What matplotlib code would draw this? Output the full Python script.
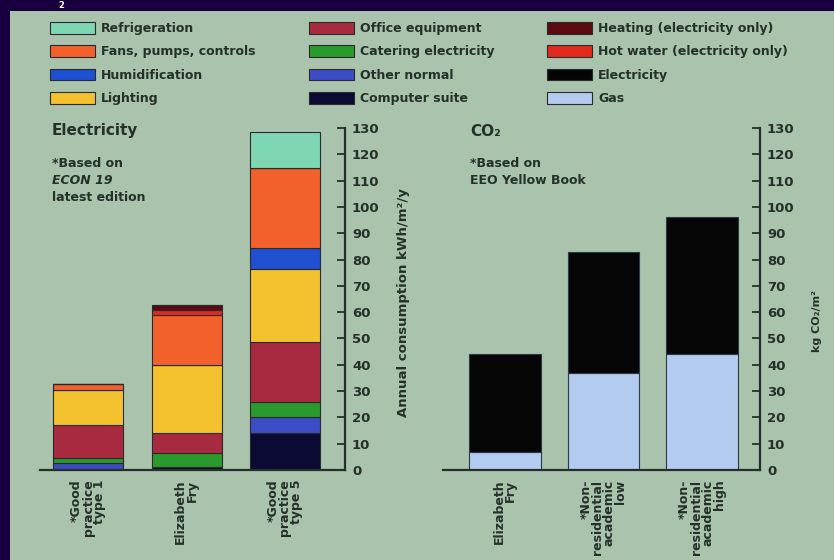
import matplotlib.pyplot as plt
from matplotlib.patches import Patch, Rectangle
import numpy as np

plt.rcParams['font.family'] = ['DejaVu Sans']
plt.rcParams['font.weight'] = 'bold'

border = '#180040'
panel = '#a9c3ad'
ink = '#263028'

elec_sites = ['*Good\npractice\ntype 1', 'Elizabeth\nFry', '*Good\npractice\ntype 5']
co2_sites = ['Elizabeth\nFry', '*Non-\nresidential\nacademic\nlow',
             '*Non-\nresidential\nacademic\nhigh']

# annual electricity use, kWh/m2/y, stacked bottom to top
computer_suite = [0, 1.3, 14]
other_normal = [2.7, 0, 6.3]
catering = [1.9, 5.2, 5.7]
office = [12.5, 7.6, 22.8]
lighting = [13.3, 25.8, 27.5]
humidification = [0, 0, 8]
fans = [2.3, 19, 30.4]
hot_water = [0, 1.9, 0]
heating = [0, 1.9, 0]
refrigeration = [0, 0, 13.9]

# CO2, kg/m2
gas = [7, 37, 44]
electricity = [37, 46, 52]

colors = {
    'Refrigeration': '#7fd6b2',
    'Fans, pumps, controls': '#f2602c',
    'Humidification': '#1f50d2',
    'Lighting': '#f3c22e',
    'Office equipment': '#a82a40',
    'Catering electricity': '#2a9a2c',
    'Other normal': '#3c4cc4',
    'Computer suite': '#0a0a32',
    'Heating (electricity only)': '#5a0a12',
    'Hot water (electricity only)': '#e02a1e',
    'Electricity': '#050505',
    'Gas': '#b4cbf0',
}

elec_stack = [
    ('Computer suite', computer_suite),
    ('Other normal', other_normal),
    ('Catering electricity', catering),
    ('Office equipment', office),
    ('Lighting', lighting),
    ('Humidification', humidification),
    ('Fans, pumps, controls', fans),
    ('Hot water (electricity only)', hot_water),
    ('Heating (electricity only)', heating),
    ('Refrigeration', refrigeration),
]

W, H = 834, 560
fig = plt.figure(figsize=(W / 100, H / 100), dpi=100, facecolor=border)
fig.patches.append(Rectangle((10 / W, 0), 1, (H - 11) / H, transform=fig.transFigure,
                             facecolor=panel, edgecolor='none', zorder=-10))
fig.text(61 / W, 1 - 1 / H, '2', color='white', fontsize=6, va='top', ha='center')


def style_axis(ax, xlim, labels, ylabel, label_size, label_xy):
    ax.set_facecolor('none')
    ax.set_ylim(0, 130)
    ax.set_xlim(*xlim)
    for s in ['left', 'top']:
        ax.spines[s].set_visible(False)
    for s in ['right', 'bottom']:
        ax.spines[s].set_color(ink)
        ax.spines[s].set_linewidth(1.6)
    ax.yaxis.tick_right()
    ax.set_yticks(range(0, 131, 10))
    ax.tick_params(axis='y', direction='in', length=6, width=1.3, color=ink,
                   labelsize=9.5, labelcolor=ink, pad=5)
    ax.set_xticks(range(3))
    ax.set_xticklabels(labels, rotation=90, ha='center', va='top',
                       multialignment='right', linespacing=0.85,
                       fontsize=9, color=ink)
    ax.tick_params(axis='x', length=0, pad=7)
    ax.yaxis.set_label_position('right')
    ax.set_ylabel(ylabel, fontsize=label_size, color=ink, rotation=90,
                  fontweight='bold')
    ax.yaxis.set_label_coords(*label_xy)


# electricity panel
ax1 = fig.add_axes([40 / W, 1 - 470 / H, 305 / W, 342 / H])
x = np.arange(3)
bottom = np.zeros(3)
for name, vals in elec_stack:
    ax1.bar(x, vals, 0.71, bottom=bottom, color=colors[name],
            edgecolor='#2a2a2a', linewidth=0.8)
    bottom += np.array(vals)
style_axis(ax1, (-0.49, 2.61), elec_sites,
           'Annual consumption kWh/m²/y', 9.5, (1.17, 0.49))

# CO2 panel
ax2 = fig.add_axes([443 / W, 1 - 470 / H, 317 / W, 342 / H])
ax2.bar(x, gas, 0.73, color=colors['Gas'], edgecolor='#2a3a4a', linewidth=0.8)
ax2.bar(x, electricity, 0.73, bottom=gas, color=colors['Electricity'],
        edgecolor='#2a3a4a', linewidth=0.8)
style_axis(ax2, (-0.63, 2.59), co2_sites, 'kg CO₂/m²', 8, (1.165, 0.435))

# titles and notes
fig.text(52 / W, 1 - 130 / H, 'Electricity', fontsize=11, color=ink, va='center')
fig.text(52 / W, 1 - 163 / H, '*Based on', fontsize=9, color=ink, va='center')
fig.text(52 / W, 1 - 180 / H, 'ECON 19', fontsize=9, color=ink, va='center', style='italic')
fig.text(52 / W, 1 - 197 / H, 'latest edition', fontsize=9, color=ink, va='center')
fig.text(470 / W, 1 - 132 / H, 'CO₂', fontsize=11, color=ink, va='center')
fig.text(470 / W, 1 - 163 / H, '*Based on', fontsize=9, color=ink, va='center')
fig.text(470 / W, 1 - 180 / H, 'EEO Yellow Book', fontsize=9, color=ink, va='center')

# legend, three columns
legend_cols = [
    ['Refrigeration', 'Fans, pumps, controls', 'Humidification', 'Lighting'],
    ['Office equipment', 'Catering electricity', 'Other normal', 'Computer suite'],
    ['Heating (electricity only)', 'Hot water (electricity only)', 'Electricity', 'Gas'],
]
legend_x = [50, 309, 547]
for names, lx in zip(legend_cols, legend_x):
    handles = [Patch(facecolor=colors[n], edgecolor='#2a2a2a', linewidth=0.8, label=n)
               for n in names]
    leg = fig.legend(handles=handles, loc='upper left',
                     bbox_to_anchor=(lx / W, 1 - 22 / H), bbox_transform=fig.transFigure,
                     frameon=False, fontsize=9, handlelength=3.6, handleheight=1.05,
                     labelspacing=0.82, handletextpad=0.5, borderpad=0, borderaxespad=0)
    for t in leg.get_texts():
        t.set_color(ink)

fig.savefig('out.png', dpi=100, facecolor=border)
